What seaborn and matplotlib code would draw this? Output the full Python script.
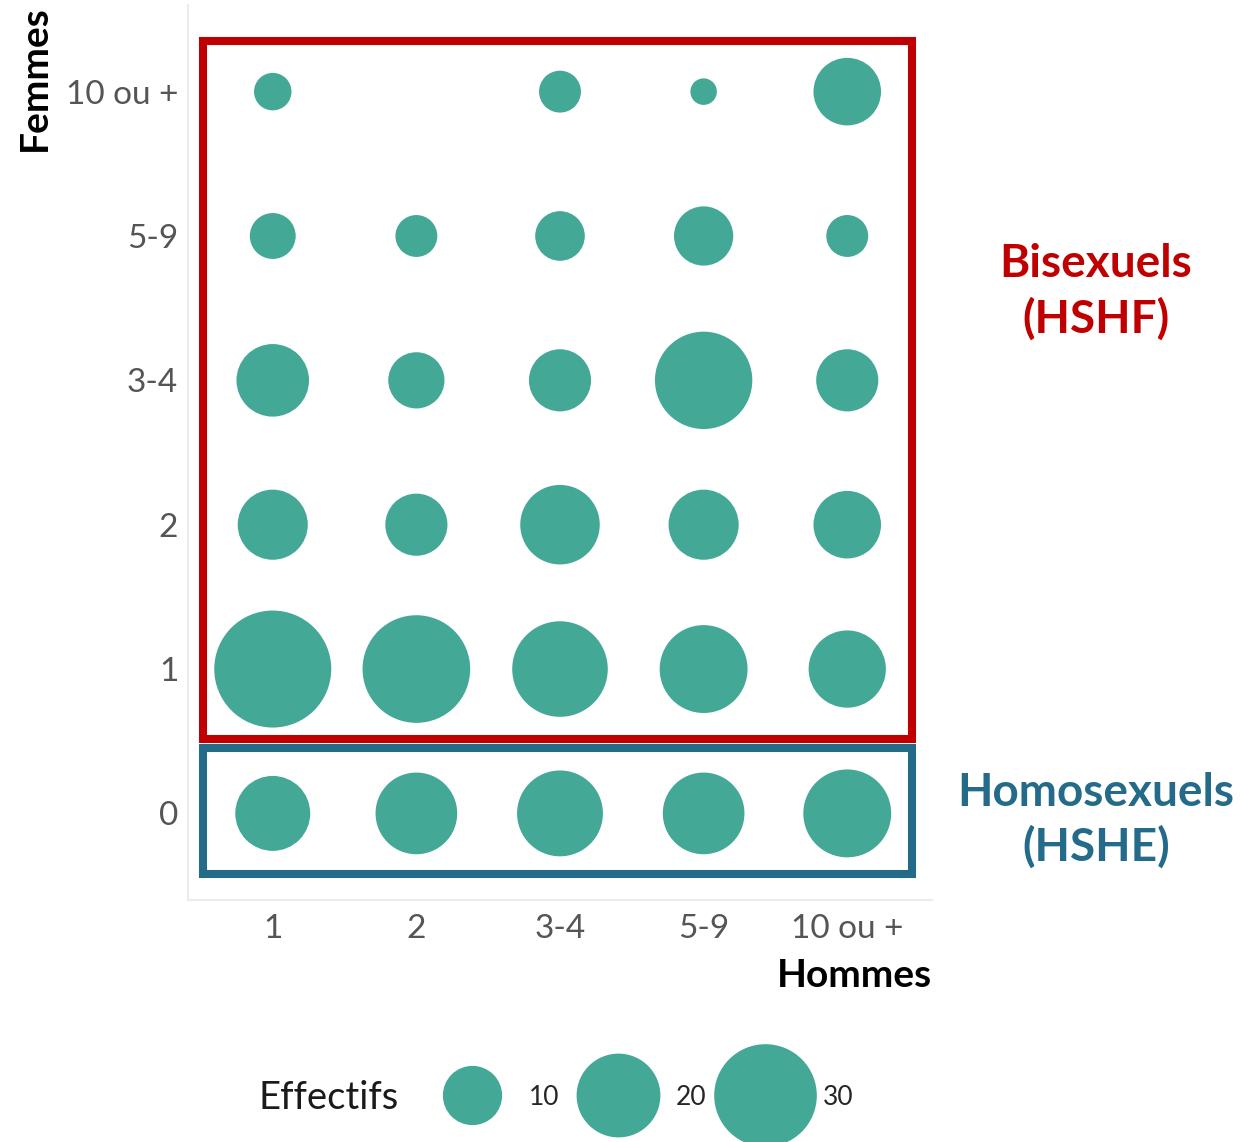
import pandas as pd
import matplotlib.pyplot as plt
from matplotlib.patches import Rectangle
from matplotlib.lines import Line2D
import seaborn as sns

# ── 1. DATA ───────────────────────────────
hommes = ['1', '2', '3-4', '5-9', '10 ou +']
femmes = ['0', '1', '2', '3-4', '5-9', '10 ou +']

# effectifs par ligne (nb de partenaires femmes), colonnes = hommes
eff_f0 = [16, 19, 21, 19, 22]
eff_f1 = [39, 33, 26, 22, 17]
eff_f2 = [14, 11, 18, 14, 13]
eff_f34 = [15, 9, 11, 27, 11]
eff_f59 = [6, 5, 7, 10, 5]
eff_f10 = [4, 0, 5, 2, 13]

legend_vals = [10, 20, 30]

# ── 2. STYLE ──────────────────────────────
sns.set_style('white')
plt.rcParams['font.family'] = ['Lato', 'DejaVu Sans']

TEAL = '#44A896'
RED = '#C00000'
BLUE = '#246B8A'
K = 182          # points² par individu (aire proportionnelle)

rows = [eff_f0, eff_f1, eff_f2, eff_f34, eff_f59, eff_f10]
df = pd.DataFrame(
    [(h, f, n) for f, r in zip(femmes, rows) for h, n in zip(hommes, r)],
    columns=['hommes', 'femmes', 'n'])
df['x'] = df['hommes'].map({h: i for i, h in enumerate(hommes)})
df['y'] = df['femmes'].map({f: i for i, f in enumerate(femmes)})

# ── 3. PLOT ───────────────────────────────
fig = plt.figure(figsize=(12.41, 11.42), dpi=100)
ax = fig.add_axes([0.1515, 0.2119, 0.5995, 0.7837])

sns.scatterplot(data=df, x='x', y='y', size='n', sizes=(0, K * 40),
                size_norm=(0, 40), color=TEAL, linewidth=0, alpha=1,
                legend=False, ax=ax)

ax.set_xlim(-0.59, 4.59)
ax.set_ylim(-0.6, 5.6)
ax.set_xticks(range(len(hommes)), hommes)
ax.set_yticks(range(len(femmes)), femmes)
ax.tick_params(length=0, labelsize=24, labelcolor='#555555')
ax.tick_params(axis='y', pad=7)
ax.tick_params(axis='x', pad=10)

for s in ['top', 'right']:
    ax.spines[s].set_visible(False)
for s in ['left', 'bottom']:
    ax.spines[s].set_color('#EBEBEB')
    ax.spines[s].set_linewidth(1.5)

ax.set_xlabel('Hommes', loc='right', fontsize=28, fontweight='bold',
              labelpad=10, color='black')
ax.set_ylabel('Femmes', loc='top', fontsize=28, fontweight='bold',
              labelpad=10, color='black')

# cadres bisexuels / homosexuels
ax.add_patch(Rectangle((-0.486, 0.512), 4.939, 4.836, fill=False,
                       ec=RED, lw=5.8, clip_on=False))
ax.add_patch(Rectangle((-0.486, -0.42), 4.939, 0.872, fill=False,
                       ec=BLUE, lw=5.8, clip_on=False))

fig.text(0.8832, 0.7443, 'Bisexuels\n(HSHF)', ha='center', va='center',
         fontsize=33, fontweight='bold', color=RED, linespacing=1.33)
fig.text(0.8832, 0.2815, 'Homosexuels\n(HSHE)', ha='center', va='center',
         fontsize=33, fontweight='bold', color=BLUE, linespacing=1.33)

# ── 4. LEGENDE ────────────────────────────
handles = [Line2D([], [], marker='o', ls='', color=TEAL, mec='none',
                  markersize=(K * v) ** 0.5) for v in legend_vals]
fig.text(0.2079, 0.0385, 'Effectifs', ha='left', va='center',
         fontsize=27.5, color='#1A1A1A')
fig.legend(handles, [str(v) for v in legend_vals], ncol=3,
           loc='center left', bbox_to_anchor=(0.3392, 0.0394),
           frameon=False, fontsize=19, handlelength=3.85,
           handletextpad=0.25, columnspacing=0.3,
           borderpad=0, borderaxespad=0)

plt.savefig('out.png', dpi=100)
